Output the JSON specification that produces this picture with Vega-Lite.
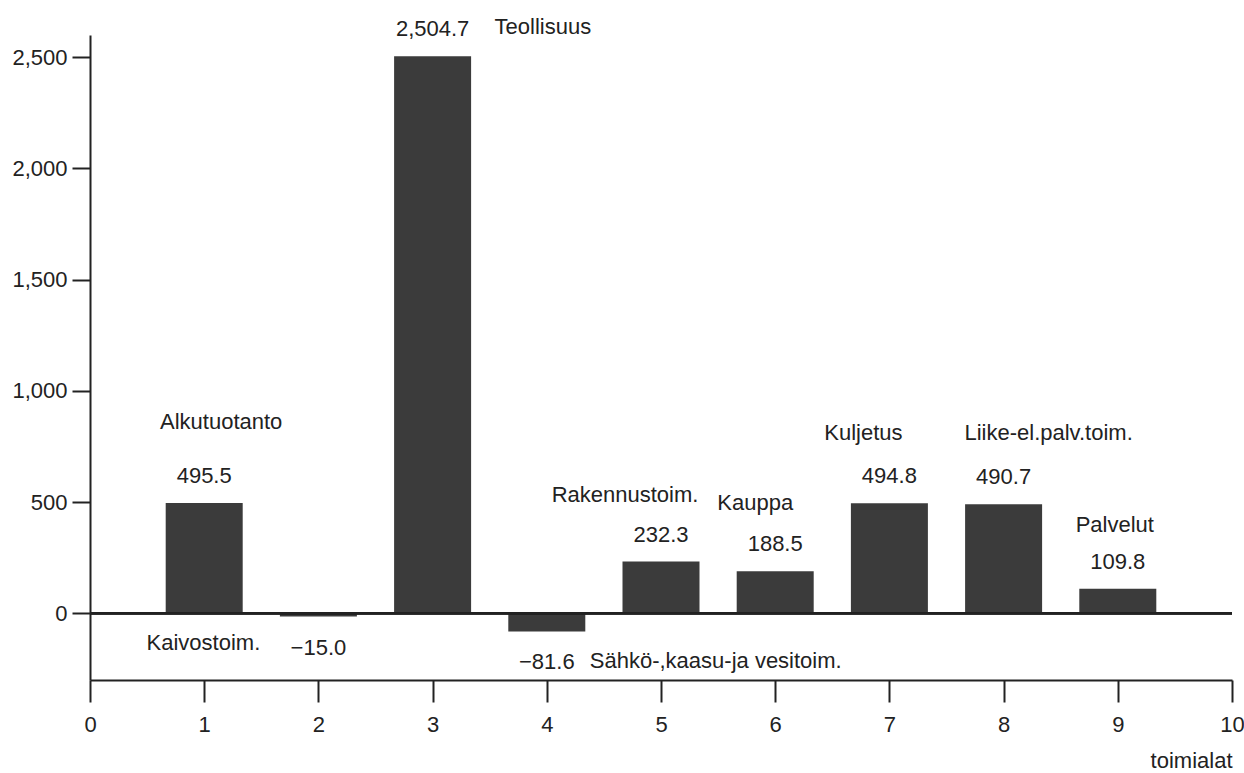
{
  "$schema": "https://vega.github.io/schema/vega-lite/v6.json",
  "autosize": {"type": "none"},
  "padding": {"left": 90, "top": 35, "right": 12, "bottom": 93},
  "width": 1142,
  "height": 645,
  "background": "white",
  "config": {
    "view": {"stroke": null},
    "font": "Liberation Sans, Arial, sans-serif",
    "axis": {
      "domainColor": "#222222",
      "domainWidth": 2,
      "tickColor": "#222222",
      "tickWidth": 2,
      "grid": false,
      "labelColor": "#222222",
      "labelFont": "Liberation Sans, Arial, sans-serif",
      "titleFont": "Liberation Sans, Arial, sans-serif",
      "titleColor": "#222222"
    },
    "text": {"fontSize": 22, "color": "#222222", "font": "Liberation Sans, Arial, sans-serif"}
  },
  "data": {
    "values": [
      {"toimiala": 1, "nimi": "Alkutuotanto", "arvo": 495.5},
      {"toimiala": 2, "nimi": "Kaivostoim.", "arvo": -15.0},
      {"toimiala": 3, "nimi": "Teollisuus", "arvo": 2504.7},
      {"toimiala": 4, "nimi": "Sähkö-,kaasu-ja vesitoim.", "arvo": -81.6},
      {"toimiala": 5, "nimi": "Rakennustoim.", "arvo": 232.3},
      {"toimiala": 6, "nimi": "Kauppa", "arvo": 188.5},
      {"toimiala": 7, "nimi": "Kuljetus", "arvo": 494.8},
      {"toimiala": 8, "nimi": "Liike-el.palv.toim.", "arvo": 490.7},
      {"toimiala": 9, "nimi": "Palvelut", "arvo": 109.8}
    ]
  },
  "layer": [
    {
      "mark": {"type": "bar", "size": 77, "color": "#3b3b3b"},
      "encoding": {
        "x": {
          "field": "toimiala", "type": "quantitative",
          "scale": {"domain": [0, 10], "nice": false, "zero": false, "padding": 0},
          "axis": {
            "values": [0, 1, 2, 3, 4, 5, 6, 7, 8, 9, 10],
            "format": "d",
            "tickSize": 22, "labelPadding": 12, "labelFontSize": 22, "labelFlush": false,
            "title": "toimialat", "titleFontSize": 22, "titleFontWeight": "normal",
            "titleAnchor": "end", "titleAlign": "right", "titleX": 1142, "titleY": 87, "titleBaseline": "alphabetic"
          }
        },
        "y": {
          "field": "arvo", "type": "quantitative",
          "scale": {"domain": [-300, 2600], "nice": false},
          "axis": {
            "values": [0, 500, 1000, 1500, 2000, 2500],
            "format": ",d", "tickSize": 18, "labelPadding": 5, "labelFontSize": 22, "title": null
          }
        }
      }
    },
    {
      "mark": {"type": "rule", "color": "#222222", "strokeWidth": 2},
      "encoding": {"y": {"datum": 0, "type": "quantitative"}}
    },
    {
      "transform": [{"filter": "datum.arvo >= 0"}],
      "mark": {"type": "text", "dy": -27},
      "encoding": {
        "x": {"field": "toimiala", "type": "quantitative"},
        "y": {"field": "arvo", "type": "quantitative"},
        "text": {"field": "arvo", "type": "quantitative", "format": ",.1f"}
      }
    },
    {
      "transform": [{"filter": "datum.arvo < 0"}],
      "mark": {"type": "text", "dy": 31},
      "encoding": {
        "x": {"field": "toimiala", "type": "quantitative"},
        "y": {"field": "arvo", "type": "quantitative"},
        "text": {"field": "arvo", "type": "quantitative", "format": ",.1f"}
      }
    },
    {
      "transform": [{"filter": "datum.toimiala == 1"}],
      "mark": {"type": "text", "dx": 17, "dy": -81},
      "encoding": {"x": {"field": "toimiala", "type": "quantitative"}, "y": {"field": "arvo", "type": "quantitative"}, "text": {"field": "nimi"}}
    },
    {
      "transform": [{"filter": "datum.toimiala == 2"}],
      "mark": {"type": "text", "dx": -115, "dy": 26},
      "encoding": {"x": {"field": "toimiala", "type": "quantitative"}, "y": {"field": "arvo", "type": "quantitative"}, "text": {"field": "nimi"}}
    },
    {
      "transform": [{"filter": "datum.toimiala == 3"}],
      "mark": {"type": "text", "align": "left", "dx": 62, "dy": -29},
      "encoding": {"x": {"field": "toimiala", "type": "quantitative"}, "y": {"field": "arvo", "type": "quantitative"}, "text": {"field": "nimi"}}
    },
    {
      "transform": [{"filter": "datum.toimiala == 4"}],
      "mark": {"type": "text", "align": "left", "dx": 43, "dy": 30},
      "encoding": {"x": {"field": "toimiala", "type": "quantitative"}, "y": {"field": "arvo", "type": "quantitative"}, "text": {"field": "nimi"}}
    },
    {
      "transform": [{"filter": "datum.toimiala == 5"}],
      "mark": {"type": "text", "dx": -36, "dy": -67},
      "encoding": {"x": {"field": "toimiala", "type": "quantitative"}, "y": {"field": "arvo", "type": "quantitative"}, "text": {"field": "nimi"}}
    },
    {
      "transform": [{"filter": "datum.toimiala == 6"}],
      "mark": {"type": "text", "dx": -20, "dy": -68},
      "encoding": {"x": {"field": "toimiala", "type": "quantitative"}, "y": {"field": "arvo", "type": "quantitative"}, "text": {"field": "nimi"}}
    },
    {
      "transform": [{"filter": "datum.toimiala == 7"}],
      "mark": {"type": "text", "dx": -26, "dy": -70},
      "encoding": {"x": {"field": "toimiala", "type": "quantitative"}, "y": {"field": "arvo", "type": "quantitative"}, "text": {"field": "nimi"}}
    },
    {
      "transform": [{"filter": "datum.toimiala == 8"}],
      "mark": {"type": "text", "dx": 45, "dy": -71},
      "encoding": {"x": {"field": "toimiala", "type": "quantitative"}, "y": {"field": "arvo", "type": "quantitative"}, "text": {"field": "nimi"}}
    },
    {
      "transform": [{"filter": "datum.toimiala == 9"}],
      "mark": {"type": "text", "dx": -3, "dy": -64},
      "encoding": {"x": {"field": "toimiala", "type": "quantitative"}, "y": {"field": "arvo", "type": "quantitative"}, "text": {"field": "nimi"}}
    }
  ]
}
